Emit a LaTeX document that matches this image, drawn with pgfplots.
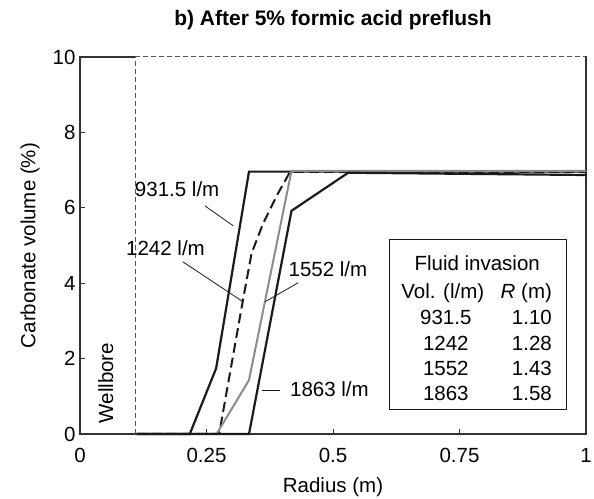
\documentclass[border=0pt]{standalone}
\usepackage{pgfplots}
\pgfplotsset{compat=1.18}
\usepackage{fontspec}
\setmainfont{Liberation Sans}
\definecolor{dk}{HTML}{1A1A1A}
\definecolor{gr}{HTML}{8C8C8C}
\definecolor{ax}{HTML}{333333}
\definecolor{wb}{HTML}{555555}
\begin{document}
\begin{tikzpicture}
\begin{axis}[
  name=ax,
  scale only axis,
  width=506pt, height=377pt,
  xmin=0, xmax=1, ymin=0, ymax=10,
  xtick={0,0.25,0.5,0.75,1},
  xticklabels={0,0.25,0.5,0.75,1},
  ytick={0,2,4,6,8,10},
  tick align=inside,
  xtick pos=bottom, ytick pos=left,
  major tick length=5pt,
  every tick/.style={ax, line width=0.8pt},
  axis line style={ax, line width=1.1pt},
  /pgf/number format/assume math mode=true,
  font=\fontsize{20.5}{24}\selectfont,
  tick label style={font=\fontsize{20.5}{24}\selectfont},
  xticklabel style={yshift=-11pt},
  yticklabel style={xshift=-1pt},
  xlabel={Radius (m)},
  ylabel={Carbonate volume (\%)},
  xlabel style={at={(axis description cs:0.5,-0.1406)}, anchor=center},
  ylabel style={at={(axis description cs:-0.0988,0.5)}, anchor=center},
  clip=false,
]
% top border: solid to wellbore, dashed after
\draw[white, line width=2pt] (axis cs:0.109,10) -- (axis cs:1,10);
\draw[wb, line width=1pt, dash pattern=on 5pt off 3pt] (axis cs:0.109,10) -- (axis cs:1,10);
\draw[ax, line width=1.1pt] (axis cs:1,10) -- (axis cs:1,0);
% wellbore line
\addplot[wb, line width=1pt, dash pattern=on 5pt off 3pt, forget plot] coordinates {(0.109,0) (0.109,10)};
% 1242 l/m dashed
\addplot[dk, line width=2pt, dash pattern=on 10pt off 5pt] coordinates {
 (0.112,0) (0.275,0) (0.322,3.55) (0.339,4.79) (0.362,5.59) (0.39,6.35) (0.415,6.95) (1,6.95)};
% 931.5 l/m
\addplot[dk, line width=2.2pt] coordinates {
 (0.112,0) (0.217,0) (0.269,1.74) (0.334,6.96) (1,6.96)};
% 1552 l/m gray
\addplot[gr, line width=2pt] coordinates {
 (0.112,0) (0.270,0) (0.334,1.43) (0.418,6.98) (1,6.98)};
% 1863 l/m
\addplot[dk, line width=2.2pt] coordinates {
 (0.112,0) (0.334,0) (0.418,5.92) (0.530,6.93) (1,6.87)};
% leader lines
\draw[dk, line width=0.8pt] (axis cs:0.247,6.05) -- (axis cs:0.303,5.52);
\draw[dk, line width=0.8pt] (axis cs:0.203,4.57) -- (axis cs:0.322,3.51);
\draw[dk, line width=0.8pt] (axis cs:0.431,4.01) -- (axis cs:0.366,3.51);
\draw[dk, line width=0.8pt] (axis cs:0.359,1.15) -- (axis cs:0.395,1.15);
% curve labels
\node[anchor=center] at (axis cs:0.192,6.49) {931.5 l/m};
\node[anchor=center] at (axis cs:0.169,4.93) {1242 l/m};
\node[anchor=center] at (axis cs:0.490,4.37) {1552 l/m};
\node[anchor=center] at (axis cs:0.493,1.19) {1863 l/m};
\node[rotate=90, anchor=center] at (axis cs:0.051,1.35) {Wellbore};
% table box
\draw[dk, line width=0.9pt] (axis cs:0.611,0.64) rectangle (axis cs:0.962,5.15);
\node at (axis cs:0.785,4.53) {Fluid invasion};
\node at (axis cs:0.717,3.73) {Vol. (l/m)};
\node at (axis cs:0.882,3.73) {\textit{R} (m)};
\node at (axis cs:0.723,3.08) {931.5};
\node at (axis cs:0.893,3.08) {1.10};
\node at (axis cs:0.723,2.41) {1242};
\node at (axis cs:0.893,2.41) {1.28};
\node at (axis cs:0.723,1.74) {1552};
\node at (axis cs:0.893,1.74) {1.43};
\node at (axis cs:0.723,1.08) {1863};
\node at (axis cs:0.893,1.08) {1.58};
% title
\node[font=\fontsize{21}{24}\selectfont\bfseries, anchor=center] at ([yshift=37pt]rel axis cs:0.5,1) {b) After 5\% formic acid preflush};
\end{axis}
\pgfresetboundingbox
\path ([shift={(-80pt,-65pt)}]ax.south west) rectangle ([shift={(8pt,57pt)}]ax.north east);
\end{tikzpicture}
\end{document}
